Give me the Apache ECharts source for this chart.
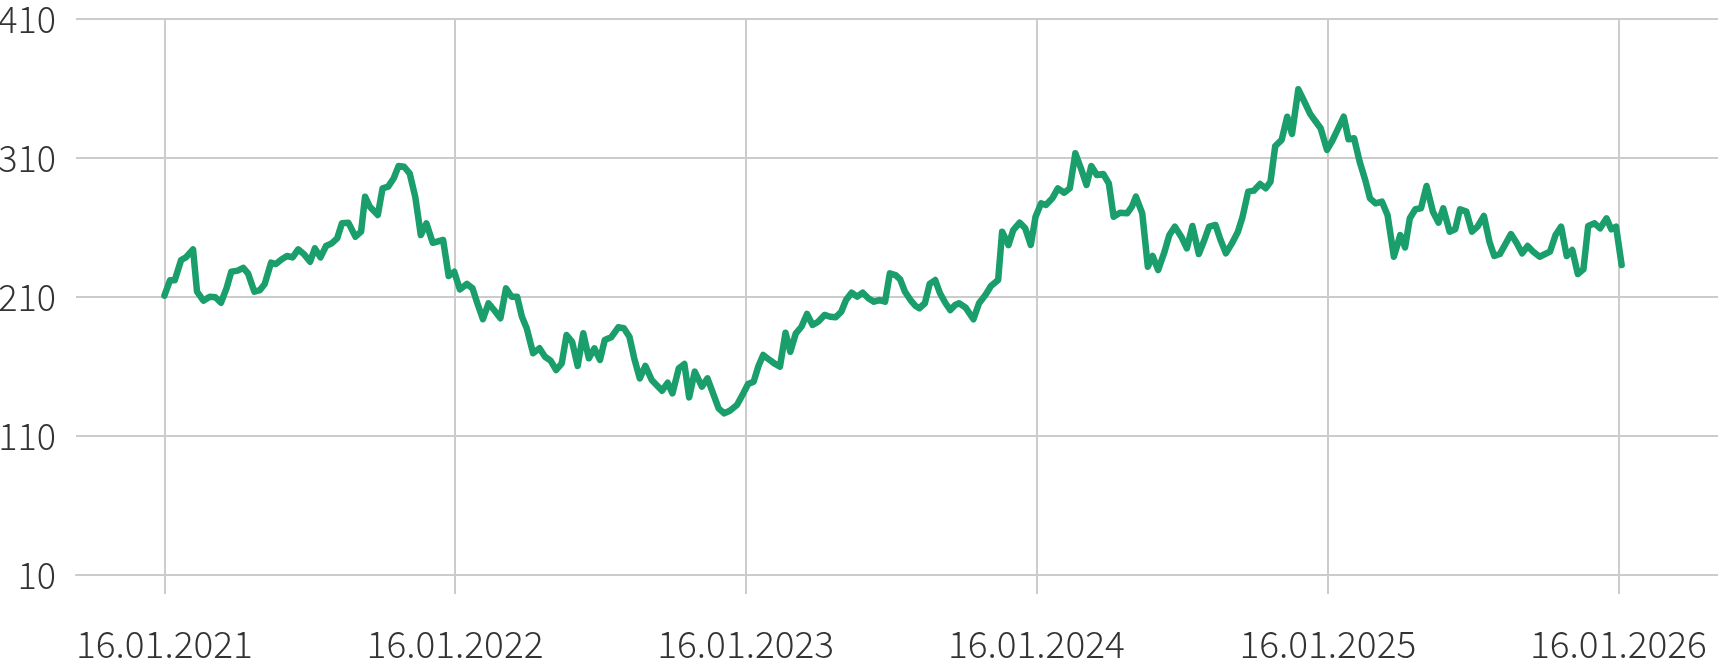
<!DOCTYPE html>
<html><head><meta charset="utf-8">
<script src="https://cdn.jsdelivr.net/npm/echarts@6/dist/echarts.min.js"></script>
<style>html,body{margin:0;padding:0;background:#fff}#c{width:1718px;height:658px}</style>
</head><body><div id="c"></div>
<script>
// Weekly observations: days after 16.01.2021 and their values
const startDate = [2021, 0, 16];
const dayOffsets = [0,7,13,21,27,36,41,49,57,64,71,78,84,92,99,105,113,120,126,134,140,147,154,161,168,175,183,189,196,203,210,217,223,231,240,247,252,258,268,274,281,288,294,301,308,315,322,329,337,350,357,364,371,380,387,393,400,407,414,422,429,436,443,449,455,463,471,478,485,492,499,505,512,519,526,533,540,547,553,561,570,577,584,590,597,604,612,618,625,632,638,646,653,659,666,675,682,689,696,703,710,719,727,733,740,746,752,760,767,773,780,786,793,800,807,814,821,829,836,843,850,856,863,870,877,884,891,898,905,911,918,924,930,937,943,948,955,961,968,974,981,987,993,998,1006,1016,1023,1031,1038,1047,1052,1060,1066,1074,1081,1088,1094,1101,1107,1115,1122,1130,1137,1144,1151,1158,1164,1171,1179,1186,1192,1200,1209,1215,1220,1228,1235,1241,1248,1256,1262,1269,1277,1284,1291,1299,1306,1312,1320,1326,1333,1340,1348,1354,1361,1368,1376,1383,1389,1395,1403,1410,1416,1424,1431,1439,1446,1452,1460,1466,1473,1481,1487,1494,1501,1508,1514,1521,1529,1536,1544,1552,1558,1564,1571,1578,1585,1593,1600,1606,1614,1621,1627,1635,1642,1649,1657,1664,1670,1677,1684,1691,1698,1705,1712,1719,1727,1734,1740,1747,1754,1761,1768,1775,1782,1788,1796,1803,1811,1817,1823,1830];
const values = [211,222,222,236.6,238.5,244.3,213.8,207.4,210.2,209.8,205.9,216.2,228.2,229,231,227,213.8,215,219.4,234.7,233.7,237,239.5,238.5,244.3,241,235.4,245,238.5,246.7,248.6,252.2,263,263.5,253.4,257,282.2,275,269,288.2,289.4,295.4,304.2,303.7,299,282.2,254.6,263,249,251,225.1,228.2,215.5,219.4,216.2,205.5,194,205.5,200.6,194.7,216.2,210.2,210.2,195.8,187.5,169.5,173.1,167,164.2,157.5,162.3,182.7,177.8,160.4,183.9,165.9,173.1,164.7,179,181,188.2,187.5,181.4,165.9,151.5,160.4,150.3,146.7,142.6,148.3,140.7,158.7,161.8,137.8,156.3,145.5,151.5,140.7,129.9,126.3,128.2,132.3,140.7,147.4,149.1,160.4,168.3,164.7,161.8,159.9,184.3,170.6,183.9,188.6,197.8,189.9,192.2,197.1,195.8,195.4,199.4,207.8,213.1,210.2,213.1,209.1,206.6,207.8,206.6,227,225.8,222.7,213.8,207.8,203.7,201.9,205.5,219.4,222.2,212.7,205.5,200.6,204.2,205.5,202.5,194,205.5,211.4,217.9,222.2,257,247.4,258.2,263.5,259.4,247.4,267.8,277.4,276.2,281,288.2,285,288.2,313.4,302.6,290.6,304.2,297.8,298.5,291.8,267.8,270.6,270.2,275,282.2,270.2,231.8,239.5,229.4,242.6,254.6,260.6,253.4,245,261.1,240.9,251,260.6,261.8,251.5,241.4,248,256.8,267.8,285.8,286.5,291.3,288.2,292.9,318.6,323,339.7,327.3,359.4,351.2,341.6,336.1,331.4,315.8,321.7,330.1,339.7,323.5,324.2,307.3,294.2,281,277.4,278.6,269,239,254.6,245.7,266.6,273.1,273.8,289.9,271.4,263.5,273.8,257,258.7,273.1,271.4,257,260.6,268.3,249.8,239.5,240.9,248,255.3,249,241.4,246.7,242.6,239,240.9,242.6,254.6,260.6,239.5,243.8,226.5,229.9,261.1,263,259.4,266.6,258.7,260.6,233];
const xTickYears = [2021, 2022, 2023, 2024, 2025, 2026];
const yTicks = [10, 110, 210, 310, 410];
const yRange = [10, 410];
const xRangeDays = [-111, 1951];

function dayTs(off) { return new Date(startDate[0], startDate[1], startDate[2] + off).getTime(); }
const xTicks = xTickYears.map(y => new Date(y, 0, 16).getTime());
const data = dayOffsets.map((d, i) => [dayTs(d), values[i]]);
const pad = n => (n < 10 ? '0' : '') + n;
const fmtDate = v => { const d = new Date(v); return pad(d.getDate()) + '.' + pad(d.getMonth() + 1) + '.' + d.getFullYear(); };

const grey = '#cccccc';
const font = '"Noto Sans CJK SC", "Noto Sans", sans-serif';
const chart = echarts.init(document.getElementById('c'), null, { renderer: 'canvas' });
chart.setOption({
  animation: false,
  grid: { left: 76, right: 0, top: 19, bottom: 83, containLabel: false, outerBoundsMode: 'none' },
  xAxis: {
    type: 'value',
    min: dayTs(xRangeDays[0]),
    max: dayTs(xRangeDays[1]),
    axisLine: { show: true, lineStyle: { color: grey, width: 2 } },
    axisTick: { show: true, customValues: xTicks, length: 19, inside: false, lineStyle: { color: grey, width: 2 } },
    axisLabel: { customValues: xTicks, formatter: fmtDate, fontSize: 37, fontWeight: 300, color: '#333', margin: 50, fontFamily: font, hideOverlap: false },
    splitLine: { show: true, lineStyle: { color: grey, width: 2 } }
  },
  yAxis: {
    type: 'value',
    min: yRange[0],
    max: yRange[1],
    axisLine: { show: false },
    axisTick: { show: false, customValues: yTicks },
    axisLabel: { customValues: yTicks, fontSize: 36, fontWeight: 300, color: '#333', margin: 20, fontFamily: font },
    splitLine: { show: true, lineStyle: { color: grey, width: 2 } }
  },
  series: [{
    type: 'line',
    data: data,
    showSymbol: false,
    silent: true,
    lineStyle: { color: '#1a9e6b', width: 6.5, cap: 'round', join: 'round' }
  }]
});
</script>
</body></html>
